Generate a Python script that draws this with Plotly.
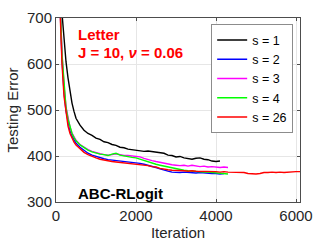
import plotly.graph_objects as go

ITER_EARLY = [0, 50, 100, 150, 200, 250, 300, 350, 400, 450]

iter_s1 = ITER_EARLY + list(range(500, 4101, 100))
err_s1 = [1400, 1000, 820, 710, 650, 605, 570, 540, 515, 497,
          482, 467, 456, 449, 445,
          439, 436, 431, 429, 425, 423, 419, 418, 415, 414,
          413, 412, 410, 411, 410, 409, 407, 406, 402, 401,
          398, 399, 396, 395, 393, 395, 396, 393, 392, 389,
          388, 389]

iter_s2 = ITER_EARLY + list(range(500, 4201, 100))
err_s2 = [1400, 910, 730, 610, 540, 498, 472, 455, 443, 434,
          428, 419, 412, 406, 402,
          399, 396, 394, 392, 391, 390, 389, 388, 387, 386,
          386, 384, 382, 380, 377, 375, 372, 369, 367, 365,
          364, 364, 365, 364, 363, 363, 364, 363, 362, 362,
          362, 361, 362]

iter_s3 = ITER_EARLY + list(range(500, 4301, 100))
err_s3 = [1400, 925, 745, 625, 552, 507, 482, 463, 450, 441,
          434, 425, 419, 414, 410,
          407, 405, 403, 402, 403, 405, 403, 401, 401, 400,
          400, 398, 395, 392, 390, 388, 386, 385, 383, 381,
          380, 379, 380, 378, 380, 378, 377, 378, 376, 377,
          376, 375, 376, 375]

iter_s4 = ITER_EARLY + list(range(500, 4301, 100))
err_s4 = [1400, 920, 740, 620, 550, 505, 480, 462, 449, 440,
          433, 424, 418, 413, 409,
          406, 404, 403, 401, 404, 406, 402, 400, 398, 397,
          396, 393, 390, 387, 385, 382, 380, 378, 376, 374,
          372, 371, 369, 368, 367, 367, 366, 365, 365, 364,
          363, 363, 362, 361]

iter_s26 = ITER_EARLY + list(range(500, 6101, 100))
err_s26 = [1400, 900, 720, 600, 530, 490, 465, 449, 438, 430,
           424, 415, 408, 403, 399,
           396, 393, 391, 389, 388, 387, 386, 385, 384, 384,
           383, 381, 380, 379, 377, 376, 373, 371, 370, 369,
           369, 368, 368, 367, 368, 367, 367, 366, 367, 366,
           366, 365, 366, 365, 365, 364, 365, 364, 362, 361,
           361, 362, 364, 364, 365, 364, 365, 364, 365, 365,
           366, 366]

series = [
    ("s = 1", iter_s1, err_s1, "#000000"),
    ("s = 2", iter_s2, err_s2, "#0000ff"),
    ("s = 3", iter_s3, err_s3, "#ff00ff"),
    ("s = 4", iter_s4, err_s4, "#00ff00"),
    ("s = 26", iter_s26, err_s26, "#ff0000"),
]

X_TICKS = [0, 2000, 4000, 6000]
Y_TICKS = [300, 400, 500, 600, 700]

fig = go.Figure()
for name, xs, ys, col in series:
    fig.add_trace(go.Scatter(x=xs, y=ys, mode="lines", name=name,
                             line=dict(color=col, width=1.4)))

font_family = "Liberation Sans, Arial, sans-serif"
axis_common = dict(showline=True, linecolor="#4d4d4d", linewidth=1, mirror="ticks",
                   ticks="inside", ticklen=3, tickcolor="#4d4d4d",
                   showgrid=True, gridcolor="#e6e6e6", gridwidth=1, zeroline=False,
                   automargin=False,
                   tickfont=dict(size=15, color="#262626", family=font_family))

fig.update_layout(
    width=332, height=249,
    margin=dict(l=56, r=32, t=18, b=47),
    paper_bgcolor="white", plot_bgcolor="white",
    font=dict(family=font_family, color="#262626"),
    showlegend=True,
    legend=dict(x=0.972, y=0.965, xanchor="right", yanchor="top",
                bgcolor="white", bordercolor="#8c8c8c", borderwidth=1,
                font=dict(size=12.5, color="#000000", family=font_family),
                itemwidth=30, tracegroupgap=0),
    xaxis=dict(range=[0, 6100], tickvals=X_TICKS,
               title=dict(text="Iteration", font=dict(size=15), standoff=2),
               **axis_common),
    yaxis=dict(range=[300, 700], tickvals=Y_TICKS,
               title=dict(text="Testing Error", font=dict(size=15), standoff=4),
               **axis_common),
    annotations=[
        dict(x=0.083, y=0.913, xref="paper", yref="paper", xanchor="left", yanchor="middle",
             text="<b>Letter</b>", showarrow=False,
             font=dict(size=15, color="#ff0000", family=font_family)),
        dict(x=0.083, y=0.815, xref="paper", yref="paper", xanchor="left", yanchor="middle",
             text="<b>J = 10, <i>ν</i> = 0.06</b>", showarrow=False,
             font=dict(size=15, color="#ff0000", family=font_family)),
        dict(x=0.08, y=0.045, xref="paper", yref="paper", xanchor="left", yanchor="middle",
             text="<b>ABC-RLogit</b>", showarrow=False,
             font=dict(size=15, color="#000000", family=font_family)),
    ],
)

fig.write_html("out.html", config={"displayModeBar": False},
               post_script="document.body.style.margin='0px';")
